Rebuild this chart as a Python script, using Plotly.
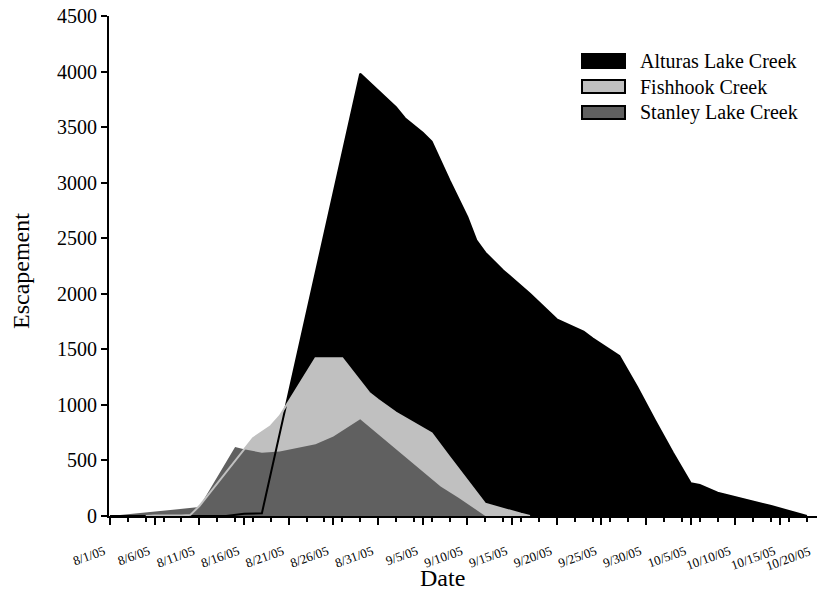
import plotly.graph_objects as go
import pandas as pd

# ---- data -------------------------------------------------------------
series_names = ["Alturas Lake Creek", "Fishhook Creek", "Stanley Lake Creek"]
series_colors = ["#000000", "#c0c0c0", "#606060"]

alturas_dates = ["2005-08-01", "2005-08-14", "2005-08-16", "2005-08-18", "2005-08-29",
                 "2005-09-02", "2005-09-03", "2005-09-05", "2005-09-06", "2005-09-07",
                 "2005-09-08", "2005-09-10", "2005-09-11", "2005-09-12", "2005-09-14",
                 "2005-09-17", "2005-09-19", "2005-09-20", "2005-09-23", "2005-09-24",
                 "2005-09-27", "2005-09-29", "2005-10-01", "2005-10-03", "2005-10-05",
                 "2005-10-06", "2005-10-08", "2005-10-10", "2005-10-12", "2005-10-14",
                 "2005-10-18"]
alturas_vals = [0, 0, 20, 25, 3980,
                3680, 3580, 3450, 3370, 3190,
                3020, 2690, 2480, 2370, 2210,
                2000, 1850, 1770, 1660, 1600,
                1440, 1160, 860, 570, 295,
                280, 210, 170, 135, 90,
                0]

fishhook_dates = ["2005-08-05", "2005-08-06", "2005-08-09", "2005-08-10", "2005-08-11",
                  "2005-08-16", "2005-08-17", "2005-08-19", "2005-08-20", "2005-08-24",
                  "2005-08-27", "2005-08-30", "2005-08-31", "2005-09-02", "2005-09-04",
                  "2005-09-06", "2005-09-08", "2005-09-10", "2005-09-12", "2005-09-16",
                  "2005-09-17"]
fishhook_vals = [0, 5, 5, 10, 90,
                 590, 700, 810, 900, 1420,
                 1420, 1110, 1045, 930, 840,
                 745, 530, 325, 110, 20,
                 0]

stanley_dates = ["2005-08-01", "2005-08-03", "2005-08-11", "2005-08-15", "2005-08-16",
                 "2005-08-18", "2005-08-20", "2005-08-24", "2005-08-26", "2005-08-29",
                 "2005-09-07", "2005-09-09", "2005-09-12"]
stanley_vals = [0, 15, 80, 620, 600,
                570, 580, 645, 715, 870,
                265, 165, 0]

tick_dates = pd.date_range("2005-08-01", "2005-10-20", freq="5D")
tick_text = [f"{d.month}/{d.day}/{d.strftime('%y')}" for d in tick_dates]
y_ticks = list(range(0, 4501, 500))

# ---- layout geometry ----------------------------------------------------
W, H = 817, 594
ML, MR, MT, MB = 109, 0, 16, 78
PW, PH = W - ML - MR, H - MT - MB
FONT = "Liberation Serif, Times New Roman, serif"

def px(x):
    return (x - ML) / PW

def py(y):
    return (H - MB - y) / PH

x_start = pd.Timestamp("2005-08-01") - pd.Timedelta(hours=2.7)
x_end = pd.Timestamp("2005-10-19 03:00")

fig = go.Figure()

series = [
    (alturas_dates, alturas_vals),
    (fishhook_dates, fishhook_vals),
    (stanley_dates, stanley_vals),
]

# filled areas, back to front
for (d, v), name, col in zip(series, series_names, series_colors):
    fig.add_trace(go.Scatter(x=d, y=v, name=name, mode="lines", fill="tozeroy",
                             fillcolor=col, line=dict(width=0, color=col),
                             showlegend=False, hoverinfo="skip"))

# outlines of the rear series stay visible over the front fills
for (d, v), name, col in zip(series[:2], series_names[:2], series_colors[:2]):
    fig.add_trace(go.Scatter(x=d, y=v, mode="lines", line=dict(width=2, color=col),
                             showlegend=False, hoverinfo="skip"))

# legend drawn as swatches + labels
shapes = []
annotations = []
rows = [(54, 68), (80, 93), (106, 119)]
for i, (name, col) in enumerate(zip(series_names, series_colors)):
    y0, y1 = rows[i]
    shapes.append(dict(type="rect", xref="paper", yref="paper",
                       x0=px(582), x1=px(625), y0=py(y1), y1=py(y0),
                       fillcolor=col, line=dict(color="black", width=2)))
    annotations.append(dict(text=name, xref="paper", yref="paper",
                            x=px(638), y=py((y0 + y1) / 2), xanchor="left",
                            yanchor="middle", showarrow=False,
                            font=dict(family=FONT, size=20, color="black")))

# axis titles
annotations.append(dict(text="Escapement", xref="paper", yref="paper",
                        x=px(21), y=py(271), textangle=-90, showarrow=False,
                        xanchor="center", yanchor="middle",
                        font=dict(family=FONT, size=24, color="black")))
annotations.append(dict(text="Date", xref="paper", yref="paper",
                        x=px(442), y=py(578), showarrow=False,
                        xanchor="center", yanchor="middle",
                        font=dict(family=FONT, size=24, color="black")))

# last date label sits past the right end of the axis
annotations.append(dict(text=tick_text[-1], xref="paper", yref="paper",
                        x=px(815), y=py(541), xanchor="right", yanchor="top",
                        textangle=-20, showarrow=False,
                        font=dict(family=FONT, size=13, color="black")))

fig.update_layout(
    width=W, height=H,
    margin=dict(l=ML, r=MR, t=MT, b=MB),
    paper_bgcolor="white", plot_bgcolor="white",
    showlegend=False,
    shapes=shapes, annotations=annotations,
    font=dict(family=FONT, color="black"),
    xaxis=dict(type="date", range=[x_start, x_end],
               tickmode="array", tickvals=list(tick_dates[:-1]), ticktext=tick_text[:-1],
               tickangle=-20, tickfont=dict(family=FONT, size=13),
               ticks="outside", ticklen=7, tickwidth=2, tickcolor="black",
               ticklabelstandoff=14, ticklabelshift=-6,
               minor=dict(ticks="outside", tickmode="linear", tick0="2005-08-01",
                          dtick=2 * 86400000, ticklen=4, tickwidth=2, tickcolor="black"),
               showline=True, linewidth=2, linecolor="black",
               showgrid=False, zeroline=False, automargin=False),
    yaxis=dict(range=[0, 4500], tickmode="array", tickvals=y_ticks,
               tickfont=dict(family=FONT, size=20),
               ticks="outside", ticklen=6, tickwidth=2, tickcolor="black",
               showline=True, linewidth=2, linecolor="black",
               showgrid=False, zeroline=False, automargin=False),
)

fig.write_html("out.html")
